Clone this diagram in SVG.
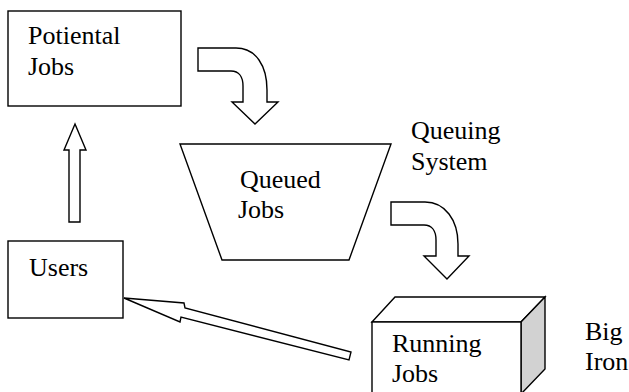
<svg xmlns="http://www.w3.org/2000/svg" width="629" height="392" viewBox="0 0 629 392">
  <rect width="629" height="392" fill="#ffffff"/>

  <!-- Nodes: white shapes with thin black outlines, serif labels -->
  <g id="potential-jobs">
    <rect x="8" y="11" width="173" height="95" fill="#ffffff" stroke="#000000" stroke-width="1.4"/>
    <text x="28" y="44" font-size="26" font-family="'Liberation Serif'">Potiental</text>
    <text x="28" y="75" font-size="26" font-family="'Liberation Serif'">Jobs</text>
  </g>

  <g id="queued-jobs">
    <polygon points="180,144 391,144 349,260 222,260" fill="#ffffff" stroke="#000000" stroke-width="1.4"/>
    <text x="240" y="188" font-size="26" font-family="'Liberation Serif'">Queued</text>
    <text x="238" y="218" font-size="26" font-family="'Liberation Serif'">Jobs</text>
  </g>

  <g id="queuing-system-label">
    <text x="411" y="139" font-size="26" font-family="'Liberation Serif'">Queuing</text>
    <text x="411" y="170" font-size="26" font-family="'Liberation Serif'">System</text>
  </g>

  <g id="users">
    <rect x="8" y="241" width="115" height="77" fill="#ffffff" stroke="#000000" stroke-width="1.4"/>
    <text x="29" y="276" font-size="26" font-family="'Liberation Serif'">Users</text>
  </g>

  <g id="running-jobs" stroke-width="1.4">
    <polygon points="372,322 395,297 545,297 521,322" fill="#ffffff" stroke="#000000"/>
    <polygon points="521,322 545,297 545,369 521,394" fill="#d2d2d2" stroke="#000000"/>
    <rect x="372" y="322" width="149" height="72" fill="#ffffff" stroke="#000000"/>
    <text x="392" y="352" font-size="26" font-family="'Liberation Serif'">Running</text>
    <text x="392" y="382" font-size="26" font-family="'Liberation Serif'">Jobs</text>
  </g>

  <g id="big-iron-label">
    <text x="585" y="340" font-size="26" font-family="'Liberation Serif'">Big</text>
    <text x="585" y="370" font-size="26" font-family="'Liberation Serif'">Iron</text>
  </g>

  <!-- Connectors: hollow block arrows -->
  <g id="connectors" fill="#ffffff" stroke="#000000" stroke-width="1.4">
    <path d="M198,48 L236,48 C256,48 267,66 267,90 L267,102 L278,102 L255,124 L232,102 L243,102 L243,86 C243,77 239,71 231,71 L198,71 Z"/>
    <path d="M391,202 L425,202 C445,202 458,220 458,244 L458,256 L469,256 L447,279 L424,256 L436,256 L436,240 C436,231 432,225 424,225 L391,225 Z"/>
    <polygon points="75,124 86,150 80,150 80,222 69,222 69,150 64,150"/>
    <polygon points="124,298 184,303 185,308 351,352 349,360 181,317 180,322"/>
  </g>
</svg>
